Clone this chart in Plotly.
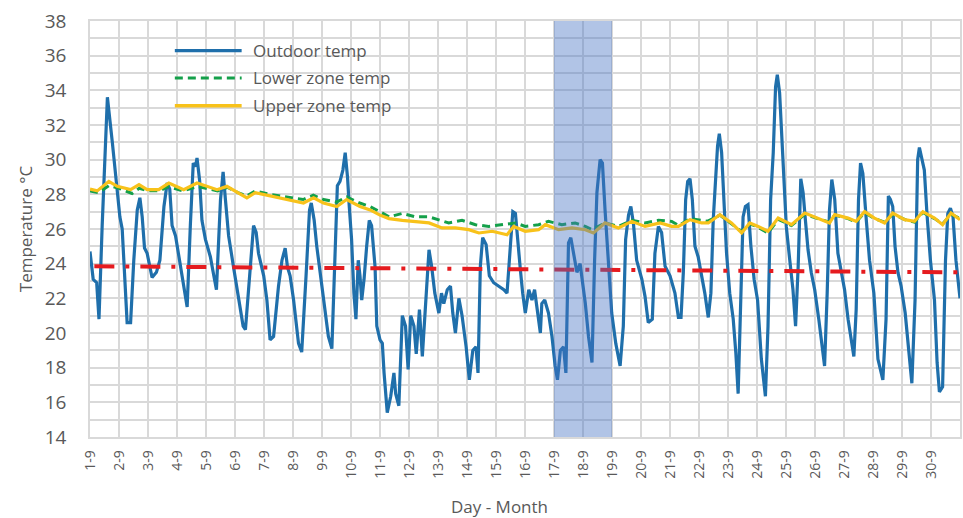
import plotly.graph_objects as go

# ---------------- data (day offset from 1-Sep 00:00, temperature °C) ----------------
day_labels = [f"{d}-9" for d in range(1, 31)]
day_ticks = list(range(30))

outdoor = [
    (0.00, 24.7), (0.11, 23.1), (0.23, 22.9), (0.31, 20.8), (0.42, 26.2), (0.50, 30.0), (0.60, 33.6),
    (0.77, 31.0), (0.88, 29.2), (1.03, 26.7), (1.11, 26.0), (1.23, 22.3), (1.28, 20.6), (1.40, 20.6),
    (1.51, 24.2), (1.63, 27.1), (1.72, 27.8), (1.80, 26.7), (1.88, 24.9), (1.97, 24.6), (2.09, 23.5),
    (2.14, 23.2), (2.29, 23.5), (2.41, 24.2), (2.55, 27.3), (2.66, 28.65), (2.75, 28.3), (2.83, 26.2),
    (2.95, 25.6), (3.06, 24.4), (3.18, 23.1), (3.35, 21.5), (3.46, 26.2), (3.56, 29.8), (3.64, 29.6),
    (3.69, 30.1), (3.78, 28.8), (3.86, 26.5), (3.98, 25.4), (4.15, 24.4), (4.27, 23.3), (4.36, 22.5),
    (4.50, 27.7), (4.59, 29.3), (4.67, 27.7), (4.78, 25.6), (4.95, 23.8), (5.13, 21.9), (5.28, 20.4),
    (5.36, 20.2), (5.53, 23.8), (5.64, 26.2), (5.73, 25.8), (5.81, 24.6), (5.99, 23.3), (6.10, 21.9),
    (6.21, 19.6), (6.33, 19.8), (6.50, 22.7), (6.62, 24.2), (6.73, 24.9), (6.81, 23.8), (6.90, 23.3),
    (7.02, 21.9), (7.19, 19.4), (7.30, 18.9), (7.45, 23.3), (7.57, 27.1), (7.63, 27.5), (7.73, 26.5),
    (7.82, 25.0), (7.94, 23.5), (8.05, 21.9), (8.22, 19.8), (8.34, 19.1), (8.45, 24.2), (8.53, 28.5),
    (8.62, 28.75), (8.72, 29.4), (8.80, 30.4), (8.88, 29.0), (8.94, 27.3), (9.02, 25.4), (9.10, 22.3),
    (9.17, 20.8), (9.25, 24.2), (9.31, 23.3), (9.37, 21.9), (9.45, 23.1), (9.54, 25.0), (9.63, 26.5),
    (9.71, 26.2), (9.83, 23.8), (9.89, 20.4), (10.00, 19.6), (10.08, 19.4), (10.14, 17.7), (10.25, 15.4),
    (10.37, 16.35), (10.48, 17.7), (10.54, 16.5), (10.65, 15.8), (10.77, 21.0), (10.88, 20.4),
    (10.97, 17.9), (11.06, 21.0), (11.17, 20.4), (11.25, 18.8), (11.36, 21.35), (11.46, 18.65),
    (11.57, 21.5), (11.69, 24.8), (11.78, 23.85), (11.89, 22.3), (12.03, 21.15), (12.12, 22.3),
    (12.20, 21.7), (12.32, 22.5), (12.43, 22.7), (12.51, 21.15), (12.60, 20.0), (12.72, 22.0),
    (12.83, 21.0), (12.97, 19.2), (13.08, 17.3), (13.20, 19.0), (13.31, 19.2), (13.38, 17.7),
    (13.46, 23.85), (13.54, 25.5), (13.66, 25.1), (13.77, 23.3), (13.92, 22.9), (14.09, 22.7),
    (14.27, 22.5), (14.38, 22.3), (14.50, 25.4), (14.58, 27.0), (14.67, 26.9), (14.76, 25.0),
    (14.84, 23.65), (14.92, 22.3), (15.01, 21.15), (15.13, 22.5), (15.24, 21.9), (15.33, 22.5),
    (15.41, 21.5), (15.53, 20.0), (15.58, 21.7), (15.68, 21.9), (15.81, 21.15), (15.93, 19.8),
    (16.04, 18.1), (16.12, 17.3), (16.22, 19.0), (16.33, 19.2), (16.41, 17.7), (16.50, 25.2),
    (16.58, 25.5), (16.67, 24.6), (16.79, 23.5), (16.90, 24.0), (16.98, 22.9), (17.08, 21.7),
    (17.19, 19.8), (17.31, 18.3), (17.40, 24.2), (17.48, 28.1), (17.59, 30.0), (17.67, 29.8),
    (17.76, 27.1), (17.86, 24.2), (17.99, 21.15), (18.13, 19.4), (18.28, 18.1), (18.39, 20.4),
    (18.47, 25.4), (18.57, 26.8), (18.65, 27.3), (18.74, 26.3), (18.85, 24.2), (19.03, 23.1),
    (19.14, 22.1), (19.25, 20.6), (19.39, 20.8), (19.48, 24.6), (19.60, 26.15), (19.71, 25.8),
    (19.83, 23.85), (20.00, 23.3), (20.17, 22.3), (20.29, 20.9), (20.38, 20.9), (20.46, 23.5),
    (20.54, 27.7), (20.61, 28.75), (20.69, 28.9), (20.77, 27.7), (20.86, 25.0), (20.97, 24.4),
    (21.09, 23.3), (21.20, 22.3), (21.32, 20.9), (21.41, 22.3), (21.49, 26.5), (21.57, 29.2),
    (21.64, 30.8), (21.70, 31.5), (21.78, 30.4), (21.87, 27.3), (21.95, 24.6), (22.06, 22.3),
    (22.18, 20.8), (22.27, 18.85), (22.35, 16.5), (22.44, 21.9), (22.52, 26.7), (22.60, 27.3),
    (22.69, 27.4), (22.79, 25.0), (22.90, 23.1), (23.02, 21.9), (23.15, 18.5), (23.29, 16.35),
    (23.38, 20.4), (23.47, 27.7), (23.56, 30.4), (23.64, 34.2), (23.70, 34.9), (23.78, 33.85),
    (23.86, 31.0), (23.93, 28.5), (24.01, 26.15), (24.13, 24.2), (24.24, 22.5), (24.33, 20.4),
    (24.42, 23.85), (24.51, 28.9), (24.59, 28.1), (24.67, 26.5), (24.76, 24.8), (24.87, 23.5),
    (24.99, 22.5), (25.13, 20.8), (25.24, 19.4), (25.33, 18.1), (25.42, 22.3), (25.50, 27.1),
    (25.58, 28.85), (25.68, 27.7), (25.79, 24.6), (25.91, 23.5), (26.02, 22.5), (26.14, 20.8),
    (26.25, 19.6), (26.34, 18.65), (26.42, 21.35), (26.50, 27.7), (26.57, 29.8), (26.65, 29.2),
    (26.77, 26.5), (26.88, 24.2), (27.03, 22.3), (27.17, 18.5), (27.34, 17.3), (27.45, 20.8),
    (27.53, 27.9), (27.60, 27.7), (27.68, 27.3), (27.76, 25.0), (27.86, 23.5), (27.97, 22.7),
    (28.11, 21.15), (28.22, 19.0), (28.34, 17.1), (28.45, 21.9), (28.54, 30.0), (28.60, 30.7),
    (28.68, 30.0), (28.77, 29.4), (28.86, 26.9), (28.98, 24.2), (29.12, 21.9), (29.21, 18.3),
    (29.29, 16.6), (29.40, 16.9), (29.50, 24.2), (29.58, 26.9), (29.67, 27.2), (29.76, 26.7),
    (29.86, 24.2), (29.94, 23.1), (30.00, 22.0),
]

lower_zone = [
    (0.0, 28.2), (0.3, 28.1), (0.65, 28.5), (1.0, 28.35), (1.45, 28.05), (1.7, 28.35), (2.0, 28.2),
    (2.4, 28.2), (2.7, 28.45), (3.2, 28.2), (3.7, 28.45), (4.2, 28.3), (4.4, 28.2), (4.75, 28.4),
    (5.1, 28.1), (5.4, 27.9), (5.7, 28.2), (6.2, 28.0), (6.8, 27.85), (7.35, 27.7), (7.7, 27.95),
    (8.05, 27.7), (8.5, 27.55), (8.85, 27.85), (9.3, 27.5), (9.65, 27.3), (10.0, 27.0), (10.31, 26.7),
    (10.77, 26.9), (11.23, 26.7), (11.69, 26.7), (12.37, 26.35), (12.83, 26.5), (13.29, 26.25),
    (13.75, 26.15), (14.21, 26.25), (14.67, 26.35), (15.01, 26.15), (15.47, 26.25), (15.81, 26.44),
    (16.27, 26.25), (16.73, 26.35), (17.08, 26.15), (17.31, 25.96), (17.76, 26.35), (18.22, 26.15),
    (18.68, 26.5), (19.14, 26.35), (19.60, 26.5), (20.06, 26.44), (20.3, 26.2), (20.7, 26.6),
    (21.3, 26.45), (21.72, 26.8), (22.12, 26.3), (22.47, 25.85), (22.75, 26.3), (23.04, 26.1),
    (23.38, 25.77), (23.73, 26.55), (24.19, 26.2), (24.65, 26.85), (25.10, 26.6), (25.5, 26.4),
    (25.68, 26.8), (26.14, 26.6), (26.42, 26.4), (26.71, 26.95), (27.05, 26.6), (27.40, 26.4),
    (27.68, 26.85), (28.09, 26.55), (28.43, 26.4), (28.72, 26.95), (29.12, 26.6), (29.40, 26.3),
    (29.69, 26.85), (30.0, 26.6),
]

upper_zone = [
    (0.00, 28.3), (0.25, 28.2), (0.65, 28.75), (0.94, 28.46), (1.40, 28.27), (1.69, 28.56),
    (1.97, 28.27), (2.37, 28.27), (2.72, 28.65), (3.23, 28.27), (3.69, 28.65), (4.15, 28.37),
    (4.38, 28.27), (4.72, 28.46), (5.07, 28.1), (5.41, 27.8), (5.70, 28.1), (6.22, 27.9),
    (6.79, 27.7), (7.36, 27.5), (7.71, 27.8), (8.05, 27.5), (8.51, 27.3), (8.85, 27.7),
    (9.31, 27.3), (9.66, 27.1), (10.0, 26.8), (10.31, 26.6), (10.77, 26.5), (11.23, 26.44),
    (11.69, 26.35), (12.14, 26.06), (12.60, 26.06), (13.06, 25.96), (13.41, 25.77), (13.87, 25.87),
    (14.38, 25.67), (14.61, 26.15), (15.01, 25.87), (15.47, 25.96), (15.70, 26.25), (16.16, 25.96),
    (16.62, 26.06), (17.08, 25.96), (17.36, 25.77), (17.76, 26.35), (18.22, 26.06), (18.68, 26.44),
    (19.14, 26.15), (19.66, 26.35), (20.06, 26.15), (20.29, 26.15), (20.69, 26.54), (21.09, 26.35),
    (21.32, 26.35), (21.72, 26.83), (22.12, 26.35), (22.47, 25.77), (22.75, 26.35), (23.04, 26.15),
    (23.38, 25.87), (23.73, 26.63), (24.19, 26.25), (24.65, 26.92), (25.10, 26.63), (25.50, 26.35),
    (25.68, 26.83), (26.14, 26.63), (26.42, 26.44), (26.71, 27.0), (27.05, 26.63), (27.40, 26.35),
    (27.68, 26.92), (28.09, 26.54), (28.43, 26.44), (28.72, 27.0), (29.12, 26.63), (29.40, 26.25),
    (29.69, 26.92), (30.0, 26.54),
]

reference_day = [0.15, 30.0]
reference_temp = [23.85, 23.5]

shaded_days = [16, 18]  # 17-9 to 19-9

legend_names = ["Outdoor temp", "Lower zone temp", "Upper zone temp"]

# ---------------- styling ----------------
C_OUT = "#1f6fab"
C_LOW = "#14a04a"
C_UP = "#f8c21a"
C_RED = "#e51b1f"
GRID = "#d9d9d9"
TXT = "#595959"
FONT = "Open Sans"
LOW_DASH = "8px,5px"
RED_DASH = "20px,11px,4px,11px"


def split(pairs):
    return [p[0] for p in pairs], [p[1] for p in pairs]


fig = go.Figure()
ox, oy = split(outdoor)
lx, ly = split(lower_zone)
ux, uy = split(upper_zone)

fig.add_trace(go.Scatter(x=ox, y=oy, mode="lines", name=legend_names[0],
                         line=dict(color=C_OUT, width=3.2), showlegend=False))
fig.add_trace(go.Scatter(x=lx, y=ly, mode="lines", name=legend_names[1],
                         line=dict(color=C_LOW, width=3, dash=LOW_DASH), showlegend=False))
fig.add_trace(go.Scatter(x=ux, y=uy, mode="lines", name=legend_names[2],
                         line=dict(color=C_UP, width=3.2), showlegend=False))
fig.add_trace(go.Scatter(x=reference_day, y=reference_temp, mode="lines",
                         line=dict(color=C_RED, width=4, dash=RED_DASH), showlegend=False))

# shaded period (semi-transparent, above the lines)
fig.add_shape(type="rect", xref="x", yref="paper", x0=shaded_days[0], x1=shaded_days[1], y0=0, y1=1,
              fillcolor="rgba(68,114,196,0.42)", line=dict(width=0), layer="above")

# manual legend
leg_rows = [0.929, 0.863, 0.796]
leg_styles = [dict(color=C_OUT, width=3.2), dict(color=C_LOW, width=3, dash=LOW_DASH),
              dict(color=C_UP, width=3.5)]
for name, yy, st in zip(legend_names, leg_rows, leg_styles):
    fig.add_shape(type="line", xref="paper", yref="paper", x0=0.0975, x1=0.1743, y0=yy, y1=yy, line=st)
    fig.add_annotation(xref="paper", yref="paper", x=0.1846, y=yy, text=name, showarrow=False,
                       xanchor="left", yanchor="middle", font=dict(family=FONT, size=17, color=TXT))

# axis titles
fig.add_annotation(xref="paper", yref="paper", x=-0.0745, y=0.5, text="Temperature °C", textangle=-90,
                   showarrow=False, xanchor="center", yanchor="middle",
                   font=dict(family=FONT, size=17, color=TXT))
fig.add_annotation(xref="paper", yref="paper", x=0.471, y=-0.168, text="Day - Month",
                   showarrow=False, xanchor="center", yanchor="middle",
                   font=dict(family=FONT, size=17, color=TXT))

fig.update_layout(
    width=963, height=518,
    margin=dict(l=90, r=1, t=21, b=81),
    paper_bgcolor="white", plot_bgcolor="white",
    font=dict(family=FONT, color=TXT),
    showlegend=False,
)
fig.update_xaxes(
    range=[0, 30], tickmode="array", tickvals=day_ticks, ticktext=day_labels, tickangle=-90,
    showgrid=True, gridcolor=GRID, gridwidth=1.5, zeroline=False,
    showline=True, mirror=True, linecolor=GRID, linewidth=1.5,
    ticks="", ticklabelstandoff=6, tickfont=dict(family=FONT, size=14, color=TXT),
)
fig.update_yaxes(
    range=[14, 38], tick0=14, dtick=2,
    showgrid=True, gridcolor=GRID, gridwidth=1.5, zeroline=False,
    minor=dict(dtick=1, showgrid=True, gridcolor=GRID, gridwidth=1.5),
    showline=True, mirror=True, linecolor=GRID, linewidth=1.5,
    ticks="", ticklabelstandoff=18, tickfont=dict(family=FONT, size=19, color=TXT),
)

fig.write_html("out.html")
